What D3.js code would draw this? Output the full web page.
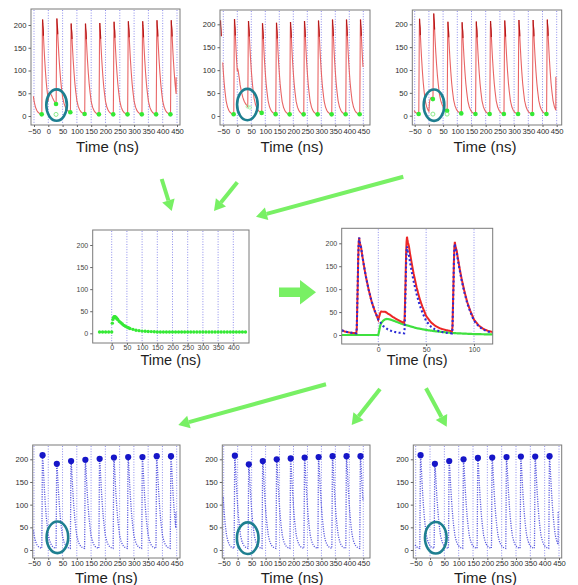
<!DOCTYPE html>
<html><head><meta charset="utf-8">
<script src="https://cdn.jsdelivr.net/npm/d3@7"></script>
<style>body{margin:0;background:#fff}svg{display:block}</style>
</head><body>
<svg id="c" width="578" height="585"></svg>
<script>
// ================= DATA =================
const xTicksFull = [-50,0,50,100,150,200,250,300,350,400,450];
const xTicksMid  = [0,50,100,150,200,250,300,350,400];
const xTicksZoom = [0,50,100];
const yTicks     = [0,50,100,150,200];
const axisTitle  = "Time (ns)";

// main pulse template: offset from peak (ns) -> fraction of peak height
const pulseOffsets   = [-3,-2.5,-1.5,-0.8,0,0.6,1.2,2,3,5,7,10,13,16,20,25,30,35,40,47,60];
const pulseFractions = [0,0.05,0.5,0.9,1,0.95,0.93,0.9,0.83,0.71,0.6,0.46,0.34,0.25,0.15,0.085,0.048,0.027,0.016,0.008,0];

// hidden (piled-up) small pulse starting at t = 0
const hiddenTimes  = [0,1,2,3,5,7,9,12,15,20,25,30,40,50,60,70,80,100,150];
const hiddenValues = [0,10,20,26,31,34,35,34,32,28,24,21,15,11,8,6,4,2,0];

// pulse trains (time of peak, fitted peak height)
const pulseTimesA = [-70,-20,30,80,130,180,230,280,330,380,430];
const pulsePeaksA = [207,209,190,196,199,201,204,205,205,207,207];
const pulseTimesB = [-60,-10,40,90,140,190,240,290,340,390,440];
const pulsePeaksB = [207,208,189,196,200,202,204,205,207,207,207];
const pulseTimesC = [-83,-33,17,67,117,167,217,267,317,367,417];
const pulsePeaksC = [207,209,190,196,200,203,204,205,206,206,207];

const baseline   = 2;
const traceStart = -52;
const traceEnds  = [447, 449, 447];
const endSpikes  = [85, null, 85];
const markerLead = 3;           // start marker drawn this many ns before the peak
const midLeftTimes = [-40,-30,-20,-10,0,2,4,6,8,10,12,14,16,18,20,25,30,35,40,45,50,55,60,70,80,90,100,110,120,130,140,150,160,170,180,190,200,210,220,230,240,250,260,270,280,290,300,310,320,330,340,350,360,370,380,390,400,410,420,430,440];
const midLeftBase = 3;
const zoomStart = -38, zoomEnd = 120;

// circled regions (time, value)
const circleT = [29, 36, 18, 32, 36, 20];
const circleV = [24, 25, 23, 28, 26, 27];

// ================= HELPERS =================
const svg = d3.select("#c");
const pulseShape = d3.scaleLinear().domain(pulseOffsets).range(pulseFractions).clamp(true);
const hidden = d3.scaleLinear().domain(hiddenTimes).range(hiddenValues).clamp(true);
function mainSignal(t, times, peaks){
  let s = baseline;
  times.forEach((tk,i)=>{ s += peaks[i]*pulseShape(t-tk); });
  return s;
}
function sampleTimes(a,b){ return d3.range(a, b+1e-6, 0.5); }

const RED="#e86464", DARKRED="#b51a1a", GREEN="#35e935", BLUE="#5454de", DBLUE="#1616c8", GRID="#8080ea", TEAL="#1e7f90", ARROW="#78f064";
const FONT="'Liberation Sans', Arial, sans-serif";

function makePanel(p){
  const g = svg.append("g");
  const x = d3.scaleLinear().domain(p.xDom).range(p.xRng);
  const y = d3.scaleLinear().domain([0,200]).range(p.yRng);
  const [fl,ft,fr,fb] = p.frame;
  const cid = "clip"+p.id;
  svg.append("clipPath").attr("id",cid).append("rect").attr("x",fl).attr("y",ft).attr("width",fr-fl).attr("height",fb-ft);
  g.append("g").selectAll("line").data(p.grid).join("line")
    .attr("x1",d=>x(d)).attr("x2",d=>x(d)).attr("y1",ft+1).attr("y2",fb-1)
    .attr("stroke",GRID).attr("stroke-width",0.9).attr("stroke-dasharray","1,1.6");
  const body = g.append("g").attr("clip-path",`url(#${cid})`);
  g.append("rect").attr("x",fl).attr("y",ft).attr("width",fr-fl).attr("height",fb-ft)
    .attr("fill","none").attr("stroke","#7a7a7a").attr("stroke-width",1);
  const ya = g.append("g").attr("transform",`translate(${fl},0)`)
    .call(d3.axisLeft(y).tickValues(yTicks).tickSize(2.5).tickPadding(2));
  const xa = g.append("g").attr("transform",`translate(0,${fb})`)
    .call(d3.axisBottom(x).tickValues(p.xTicks).tickSize(2).tickPadding(p.xPad!==undefined?p.xPad:1.5));
  [ya,xa].forEach(a=>{
    a.select(".domain").remove();
    a.selectAll("line").attr("stroke","#666");
    a.selectAll("text").attr("font-family",FONT).attr("font-size",p.tickFont||7.6).attr("fill",p.tickColor||"#2a2a2a");
  });
  g.append("text").attr("x",(fl+fr)/2+(p.titleDx||0)).attr("y",p.titleY)
    .attr("text-anchor","middle").attr("font-family",FONT).attr("font-size",p.titleFont||15).attr("fill","#1e1e1e").text(axisTitle);
  return {g, body, x, y};
}

const lineGen = (x,y)=>d3.line().x(d=>x(d[0])).y(d=>y(d[1]));

// ================= TOP ROW (raw traces, red) =================
const trains = [[pulseTimesA,pulsePeaksA],[pulseTimesB,pulsePeaksB],[pulseTimesC,pulsePeaksC]];
const topFrames = [
  {id:"T1", frame:[31,9,180,125],   xRng:[34,177],    yRng:[116,25],   titleY:152, titleDx:2},
  {id:"T2", frame:[220,10,370,125], xRng:[223.3,363.3],yRng:[116,24.3],titleY:152, titleDx:-3},
  {id:"T3", frame:[412.3,10,561.7,125], xRng:[414.7,556.7], yRng:[115.7,24.3], titleY:152, titleDx:-2}
];
topFrames.forEach((f,k)=>{
  const P = makePanel(Object.assign({xDom:[-50,450], grid:xTicksFull, xTicks:xTicksFull}, f));
  const [times,peaks] = trains[k];
  const raw = t => mainSignal(t,times,peaks)+hidden(t);
  const pts = sampleTimes(traceStart, traceEnds[k]).map(t=>[t, raw(t)]);
  if(endSpikes[k]!==null) pts.push([traceEnds[k], endSpikes[k]]);
  P.body.append("path").datum(pts).attr("d",lineGen(P.x,P.y)).attr("fill","none")
    .attr("stroke",RED).attr("stroke-width",1.1);
  times.forEach(tk=>{
    const seg = d3.range(tk, tk+3.01, 0.5).filter(t=>t<=traceEnds[k]).map(t=>[t, raw(t)]);
    if(seg.length>1) P.body.append("path").datum(seg).attr("d",lineGen(P.x,P.y)).attr("fill","none")
      .attr("stroke",DARKRED).attr("stroke-width",1.2);
  });
  const starts = times.map(tk=>tk-markerLead).filter(t=>t>=traceStart && t<=traceEnds[k]);
  starts.forEach(ts=>{
    const v = raw(ts);
    const piled = hidden(ts) > 5;
    if(piled){
      if(k===1){
        P.body.append("circle").attr("cx",P.x(ts)).attr("cy",P.y(v)).attr("r",1.6)
          .attr("fill","none").attr("stroke","#9af29a").attr("stroke-width",0.8);
        P.body.append("circle").attr("cx",P.x(ts+8)).attr("cy",P.y(v-2)).attr("r",1.6)
          .attr("fill","none").attr("stroke","#9af29a").attr("stroke-width",0.8);
      } else {
        P.body.append("circle").attr("cx",P.x(ts)).attr("cy",P.y(v)).attr("r",2.3).attr("fill",GREEN);
        P.body.append("circle").attr("cx",P.x(ts)).attr("cy",P.y(baseline+1.5)).attr("r",2)
          .attr("fill","none").attr("stroke","#7de87d").attr("stroke-width",0.9);
      }
    } else {
      P.body.append("circle").attr("cx",P.x(ts)).attr("cy",P.y(v)).attr("r",2.3).attr("fill",GREEN);
    }
  });
  P.g.append("ellipse").attr("cx",P.x(circleT[k])).attr("cy",P.y(circleV[k])).attr("rx",10.3).attr("ry",15.7)
    .attr("fill","none").attr("stroke",TEAL).attr("stroke-width",2.6);
});

// ================= MIDDLE LEFT (hidden pulse only) =================
(function(){
  const P = makePanel({id:"ML", frame:[92.7,230,249,343], xDom:[0,400], xRng:[111.7,233.3], yRng:[333.3,245],
    grid:xTicksMid, xTicks:xTicksMid, titleY:364.5, tickFont:7, tickColor:"#444", xPad:0.5, titleFont:14.5});
  P.body.selectAll("circle.g").data(midLeftTimes).join("circle")
    .attr("cx",d=>P.x(d)).attr("cy",d=>P.y(midLeftBase+hidden(d))).attr("r",1.7).attr("fill",GREEN);
})();

// ================= MIDDLE RIGHT (zoom: red = blue + green) =================
(function(){
  const P = makePanel({id:"MR", frame:[341.7,228.3,492.7,344], xDom:[0,100], xRng:[378.3,474], yRng:[335,243.3],
    grid:xTicksZoom, xTicks:xTicksZoom, titleY:364.5, tickFont:7, tickColor:"#444", xPad:0.8, titleFont:14.5});
  const ts = sampleTimes(zoomStart, zoomEnd);
  const lg = lineGen(P.x,P.y);
  P.body.append("path").datum(ts.map(t=>[t,hidden(t)])).attr("d",lg).attr("fill","none")
    .attr("stroke","#3fe03f").attr("stroke-width",2.2);
  P.body.append("path").datum(ts.map(t=>[t,mainSignal(t,pulseTimesA,pulsePeaksA)+hidden(t)])).attr("d",lg).attr("fill","none")
    .attr("stroke","#ec2626").attr("stroke-width",2);
  P.body.append("path").datum(ts.map(t=>[t,mainSignal(t,pulseTimesA,pulsePeaksA)])).attr("d",lg).attr("fill","none")
    .attr("stroke","#2b2bd6").attr("stroke-width",2.1).attr("stroke-dasharray","2,2.4");
})();

// ================= BOTTOM ROW (fitted, blue dotted) =================
const botFrames = [
  {id:"B1", frame:[32.7,445,180,558],   xRng:[34,176.7],    yRng:[550,459.3], titleY:582.5, titleDx:0},
  {id:"B2", frame:[222.3,445,370,558],  xRng:[223.7,363.3], yRng:[550,459.3], titleY:582.5, titleDx:-4},
  {id:"B3", frame:[413.3,445,561.7,558],xRng:[415.7,559],   yRng:[550,459.3], titleY:582.5, titleDx:-2}
];
botFrames.forEach((f,k)=>{
  const P = makePanel(Object.assign({xDom:[-50,450], grid:xTicksFull, xTicks:xTicksFull, xPad:1}, f));
  const [times,peaks] = trains[k];
  const pts = sampleTimes(traceStart, traceEnds[k]).map(t=>[t, mainSignal(t,times,peaks)]);
  if(endSpikes[k]!==null) pts.push([traceEnds[k], endSpikes[k]]);
  P.body.append("path").datum(pts).attr("d",lineGen(P.x,P.y)).attr("fill","none")
    .attr("stroke",BLUE).attr("stroke-width",1.3).attr("stroke-dasharray","1.1,1.3");
  times.forEach((tk,i)=>{
    if(tk<traceStart) return;
    P.body.append("circle").attr("cx",P.x(tk)).attr("cy",P.y(peaks[i])).attr("r",3.1).attr("fill",DBLUE);
  });
  P.g.append("ellipse").attr("cx",P.x(circleT[k+3])).attr("cy",P.y(circleV[k+3])).attr("rx",10.8).attr("ry",15.8)
    .attr("fill","none").attr("stroke",TEAL).attr("stroke-width",2.6);
});

// ================= ARROWS =================
const arrows = [
  [161.7,179,171.7,211],[237.3,182.3,214,211],[403.3,176.7,256,216.7],
  [326,384.3,178.3,425],[380,389,351.7,425],[426,388.3,446.7,426.7]
];
arrows.forEach(([x1,y1,x2,y2])=>{
  const ang = Math.atan2(y2-y1,x2-x1), L=11, W=6.5;
  const bx = x2-L*Math.cos(ang), by = y2-L*Math.sin(ang);
  svg.append("line").attr("x1",x1).attr("y1",y1).attr("x2",bx).attr("y2",by)
    .attr("stroke",ARROW).attr("stroke-width",4);
  const px = -Math.sin(ang), py = Math.cos(ang);
  svg.append("polygon").attr("points",[[x2,y2],[bx+W*px,by+W*py],[bx-W*px,by-W*py]].map(p=>p.join(",")).join(" "))
    .attr("fill",ARROW);
});
svg.append("polygon").attr("points","279,287.5 300,287.5 300,280 316,292.3 300,304.5 300,297 279,297")
  .attr("fill",ARROW);
</script>
</body></html>
